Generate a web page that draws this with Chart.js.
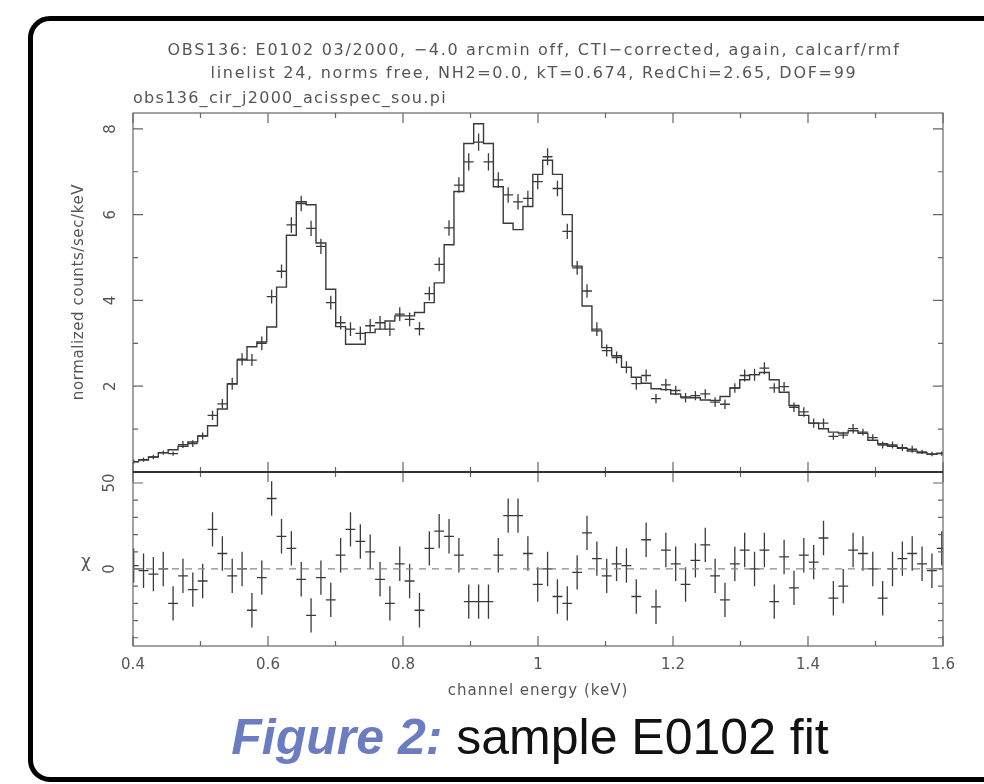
<!DOCTYPE html>
<html>
<head>
<meta charset="utf-8">
<script src="https://cdn.jsdelivr.net/npm/chart.js@4.4.1/dist/chart.umd.min.js"></script>
<style>
  html, body { margin: 0; padding: 0; background: #fff; }
  #wrap { position: relative; width: 984px; height: 784px; overflow: hidden; }
  #frame { position: absolute; left: 28px; top: 16px; width: 1000px; height: 766px;
           border: 5px solid #000; border-radius: 22px; box-sizing: border-box; }
  #chart { position: absolute; left: 0; top: 0; }
  .t { position: absolute; font-family: "DejaVu Sans", sans-serif; color: #555;
       white-space: nowrap; transform: translate(-50%, -50%); }
  .ttl { font-size: 16px; letter-spacing: 1.7px; }
  .cap { position: absolute; left: 530px; top: 737px; transform: translate(-50%, -50%);
         font-family: "Liberation Sans", Arial, sans-serif; font-size: 50px; color: #111; white-space: nowrap; }
  .cap b { color: #6b7cc0; font-style: italic; }
</style>
</head>
<body>
<div id="wrap">
  <div id="frame"></div>
  <canvas id="chart" width="984" height="784"></canvas>
  <div class="t ttl" style="left:534px;top:49px">OBS136: E0102 03/2000, −4.0 arcmin off, CTI−corrected, again, calcarf/rmf</div>
  <div class="t ttl" style="left:534px;top:72px">linelist 24, norms free, NH2=0.0, kT=0.674, RedChi=2.65, DOF=99</div>
  <div class="t ttl" style="left:133px;top:97px;letter-spacing:1.3px;transform:translate(0,-50%)">obs136_cir_j2000_acisspec_sou.pi</div>
  <div class="t" style="left:78px;top:292px;font-size:15px;letter-spacing:0.6px;transform:translate(-50%,-50%) rotate(-90deg)">normalized counts/sec/keV</div>
  <div class="t" style="left:86px;top:561px;font-size:17px">χ</div>
  <div class="t" style="left:538px;top:690px;font-size:15px;letter-spacing:1px">channel energy (keV)</div>
  <div class="cap"><b>Figure 2:</b> sample E0102 fit</div>
</div>
<script>
// channel energies (keV), one per grouped bin
const energy = [
  0.4010, 0.4156, 0.4302, 0.4448, 0.4594, 0.4740, 0.4886, 0.5032, 0.5178, 0.5324,
  0.5470, 0.5616, 0.5762, 0.5908, 0.6054, 0.6200, 0.6346, 0.6492, 0.6638, 0.6784,
  0.6930, 0.7076, 0.7222, 0.7368, 0.7514, 0.7660, 0.7806, 0.7952, 0.8098, 0.8244,
  0.8390, 0.8536, 0.8682, 0.8828, 0.8974, 0.9120, 0.9266, 0.9412, 0.9558, 0.9704,
  0.9850, 0.9996, 1.0142, 1.0288, 1.0434, 1.0580, 1.0726, 1.0872, 1.1018, 1.1164,
  1.1310, 1.1456, 1.1602, 1.1748, 1.1894, 1.2040, 1.2186, 1.2332, 1.2478, 1.2624,
  1.2770, 1.2916, 1.3062, 1.3208, 1.3354, 1.3500, 1.3646, 1.3792, 1.3938, 1.4084,
  1.4230, 1.4376, 1.4522, 1.4668, 1.4814, 1.4960, 1.5106, 1.5252, 1.5398, 1.5544,
  1.5690, 1.5836, 1.5982
];
const binWidth = 0.0146;

// normalized counts/sec/keV
const counts = [
  0.24, 0.29, 0.35, 0.45, 0.43, 0.64, 0.66, 0.84, 1.32, 1.59,
  2.06, 2.63, 2.61, 3.00, 4.09, 4.68, 5.76, 6.26, 5.68, 5.26,
  3.95, 3.48, 3.33, 3.23, 3.41, 3.48, 3.33, 3.68, 3.56, 3.34,
  4.16, 4.84, 5.69, 6.69, 7.23, 7.69, 7.23, 6.81, 6.46, 6.30,
  6.38, 6.77, 7.35, 6.61, 5.61, 4.76, 4.22, 3.33, 2.83, 2.67,
  2.44, 2.06, 2.25, 1.71, 2.03, 1.90, 1.73, 1.78, 1.82, 1.63,
  1.58, 1.96, 2.25, 2.27, 2.42, 1.96, 1.99, 1.51, 1.40, 1.14,
  1.14, 0.83, 0.86, 1.01, 0.93, 0.80, 0.63, 0.63, 0.57, 0.53,
  0.47, 0.42, 0.43
];
const countErr = [
  0.05, 0.05, 0.05, 0.05, 0.05, 0.08, 0.08, 0.08, 0.11, 0.11,
  0.14, 0.14, 0.14, 0.16, 0.16, 0.16, 0.18, 0.18, 0.18, 0.18,
  0.16, 0.16, 0.16, 0.16, 0.16, 0.16, 0.16, 0.16, 0.16, 0.16,
  0.16, 0.16, 0.18, 0.18, 0.20, 0.20, 0.20, 0.18, 0.18, 0.18,
  0.18, 0.18, 0.20, 0.18, 0.18, 0.16, 0.16, 0.16, 0.14, 0.14,
  0.14, 0.14, 0.14, 0.11, 0.14, 0.11, 0.11, 0.11, 0.11, 0.11,
  0.11, 0.11, 0.14, 0.14, 0.14, 0.11, 0.11, 0.11, 0.11, 0.11,
  0.11, 0.08, 0.08, 0.11, 0.08, 0.08, 0.08, 0.08, 0.08, 0.08,
  0.05, 0.05, 0.05
];
// folded model, one value per bin
const model = [
  0.24, 0.28, 0.35, 0.45, 0.52, 0.60, 0.70, 0.84, 1.08, 1.47,
  2.05, 2.61, 2.92, 3.03, 3.38, 4.31, 5.52, 6.30, 6.23, 5.34,
  4.26, 3.39, 2.98, 2.98, 3.25, 3.33, 3.52, 3.64, 3.64, 3.72,
  3.95, 4.41, 5.30, 6.54, 7.66, 8.12, 7.66, 6.65, 5.80, 5.65,
  6.19, 6.94, 7.27, 6.94, 6.00, 4.80, 3.87, 3.29, 2.90, 2.71,
  2.44, 2.21, 2.07, 1.94, 1.92, 1.82, 1.75, 1.73, 1.68, 1.67,
  1.76, 1.96, 2.15, 2.27, 2.32, 2.15, 1.86, 1.55, 1.32, 1.14,
  1.01, 0.93, 0.91, 0.96, 0.90, 0.74, 0.66, 0.60, 0.55, 0.49,
  0.45, 0.41, 0.44
];
// residuals (chi)
const chi = [
  2, -1, -3, 0, -20, -4, -12, -7, 23, 9,
  -4, 0, -24, -5, 41, 19, 12, -6, -27, -5,
  -18, 8, 23, 16, 10, -6, -20, 3, -7, -24,
  12, 22, 19, 8, -19, -19, -19, 8, 31, 31,
  9, -9, 0, -16, -20, -2, 21, 6, -4, 3,
  2, -16, 17, -22, 11, 3, -9, 5, 14, -4,
  -18, 3, 11, 0, 11, -19, 7, -11, 8, 4,
  18, -17, -10, 11, 9, 0, -17, 0, 6, 9,
  3, -1, 12
];
const chiErr = 10;

const xTicks = [0.4, 0.6, 0.8, 1.0, 1.2, 1.4, 1.6];
const countTicks = [2, 4, 6, 8];
const chiTicks = [0, 50];

const ink = '#3a3a3a';
const axisGray = '#666';
const textGray = '#555';

// each data point as a cross: half-bin horizontal bar + vertical error bar
function crosses(ys, errs) {
  const pts = [];
  energy.forEach((e, i) => {
    const y = ys[i];
    const err = Array.isArray(errs) ? errs[i] : errs;
    pts.push({x: e - binWidth / 2, y: y}, {x: e + binWidth / 2, y: y}, {x: e, y: null});
    pts.push({x: e, y: y - err}, {x: e, y: y + err}, {x: e, y: null});
  });
  return pts;
}

const modelSteps = energy.map((e, i) => ({x: e - binWidth / 2, y: model[i]}));
modelSteps.push({x: energy[energy.length - 1] + binWidth / 2, y: model[model.length - 1]});

// frame boxes and inward pgplot-style ticks
const framePlugin = {
  id: 'frame',
  afterDatasetsDraw(chart) {
    const {ctx, chartArea: a, scales: {x, yTop, yRes}} = chart;
    ctx.save();
    ctx.strokeStyle = axisGray;
    ctx.lineWidth = 1.2;
    ctx.strokeRect(a.left, yTop.top, a.right - a.left, yTop.bottom - yTop.top);
    ctx.strokeRect(a.left, yRes.top, a.right - a.left, yRes.bottom - yRes.top);

    ctx.beginPath();
    for (let v = 4; v <= 16; v++) {
      const px = x.getPixelForValue(v / 10);
      const len = v % 2 === 0 ? 10 : 5;
      ctx.moveTo(px, yTop.top); ctx.lineTo(px, yTop.top + len);
      ctx.moveTo(px, yTop.bottom - len); ctx.lineTo(px, yTop.bottom + len);
      ctx.moveTo(px, yRes.bottom); ctx.lineTo(px, yRes.bottom - len);
    }
    for (let v = 0; v <= 8; v++) {
      const py = yTop.getPixelForValue(v);
      const len = v % 2 === 0 ? 10 : 5;
      ctx.moveTo(a.left, py); ctx.lineTo(a.left + len, py);
      ctx.moveTo(a.right, py); ctx.lineTo(a.right - len, py);
    }
    for (let v = -40; v <= 50; v += 10) {
      const py = yRes.getPixelForValue(v);
      const len = v % 50 === 0 ? 10 : 5;
      ctx.moveTo(a.left, py); ctx.lineTo(a.left + len, py);
      ctx.moveTo(a.right, py); ctx.lineTo(a.right - len, py);
    }
    ctx.stroke();

    ctx.strokeStyle = '#333';
    ctx.lineWidth = 2;
    ctx.beginPath();
    ctx.moveTo(a.left, yTop.bottom); ctx.lineTo(a.right, yTop.bottom);
    ctx.stroke();
    ctx.restore();
  }
};

const tickFont = {family: '"DejaVu Sans", sans-serif', size: 15};

new Chart(document.getElementById('chart'), {
  type: 'scatter',
  data: {
    datasets: [
      {data: modelSteps, showLine: true, stepped: 'before', borderColor: ink, borderWidth: 1.4,
       pointRadius: 0, yAxisID: 'yTop'},
      {data: crosses(counts, countErr), showLine: true, borderColor: ink, borderWidth: 1.3,
       pointRadius: 0, yAxisID: 'yTop'},
      {data: [{x: 0.4, y: 0}, {x: 1.6, y: 0}], showLine: true, borderColor: '#888', borderWidth: 1.3,
       borderDash: [7, 6], pointRadius: 0, yAxisID: 'yRes'},
      {data: crosses(chi, chiErr), showLine: true, borderColor: ink, borderWidth: 1.3,
       pointRadius: 0, yAxisID: 'yRes'}
    ]
  },
  options: {
    responsive: false,
    animation: false,
    events: [],
    layout: {padding: {left: 93, right: 41, top: 113, bottom: 98}},
    plugins: {legend: {display: false}, tooltip: {enabled: false}},
    scales: {
      x: {
        type: 'linear', min: 0.4, max: 1.6,
        grid: {display: false, drawTicks: false}, border: {display: false},
        afterBuildTicks: s => { s.ticks = xTicks.map(v => ({value: v})); },
        afterFit: s => { s.height = 40; },
        ticks: {color: textGray, font: tickFont, padding: 10, maxRotation: 0,
                callback: v => String(+v.toFixed(1))}
      },
      // stacked left axes are laid out last-defined on top, so the residual axis comes first
      yRes: {
        type: 'linear', position: 'left', stack: 'panels', stackWeight: 174,
        min: -44.8, max: 56.4,
        grid: {display: false, drawTicks: false}, border: {display: false},
        afterBuildTicks: s => { s.ticks = chiTicks.map(v => ({value: v})); },
        afterFit: s => { s.width = 40; },
        ticks: {color: textGray, font: tickFont, padding: 13, minRotation: 90, maxRotation: 90,
                crossAlign: 'center'}
      },
      yTop: {
        type: 'linear', position: 'left', stack: 'panels', stackWeight: 359,
        min: 0, max: 8.37,
        grid: {display: false, drawTicks: false}, border: {display: false},
        afterBuildTicks: s => { s.ticks = countTicks.map(v => ({value: v})); },
        afterFit: s => { s.width = 40; },
        ticks: {color: textGray, font: tickFont, padding: 17, minRotation: 90, maxRotation: 90,
                crossAlign: 'center'}
      }
    }
  },
  plugins: [framePlugin]
});
</script>
</body>
</html>
